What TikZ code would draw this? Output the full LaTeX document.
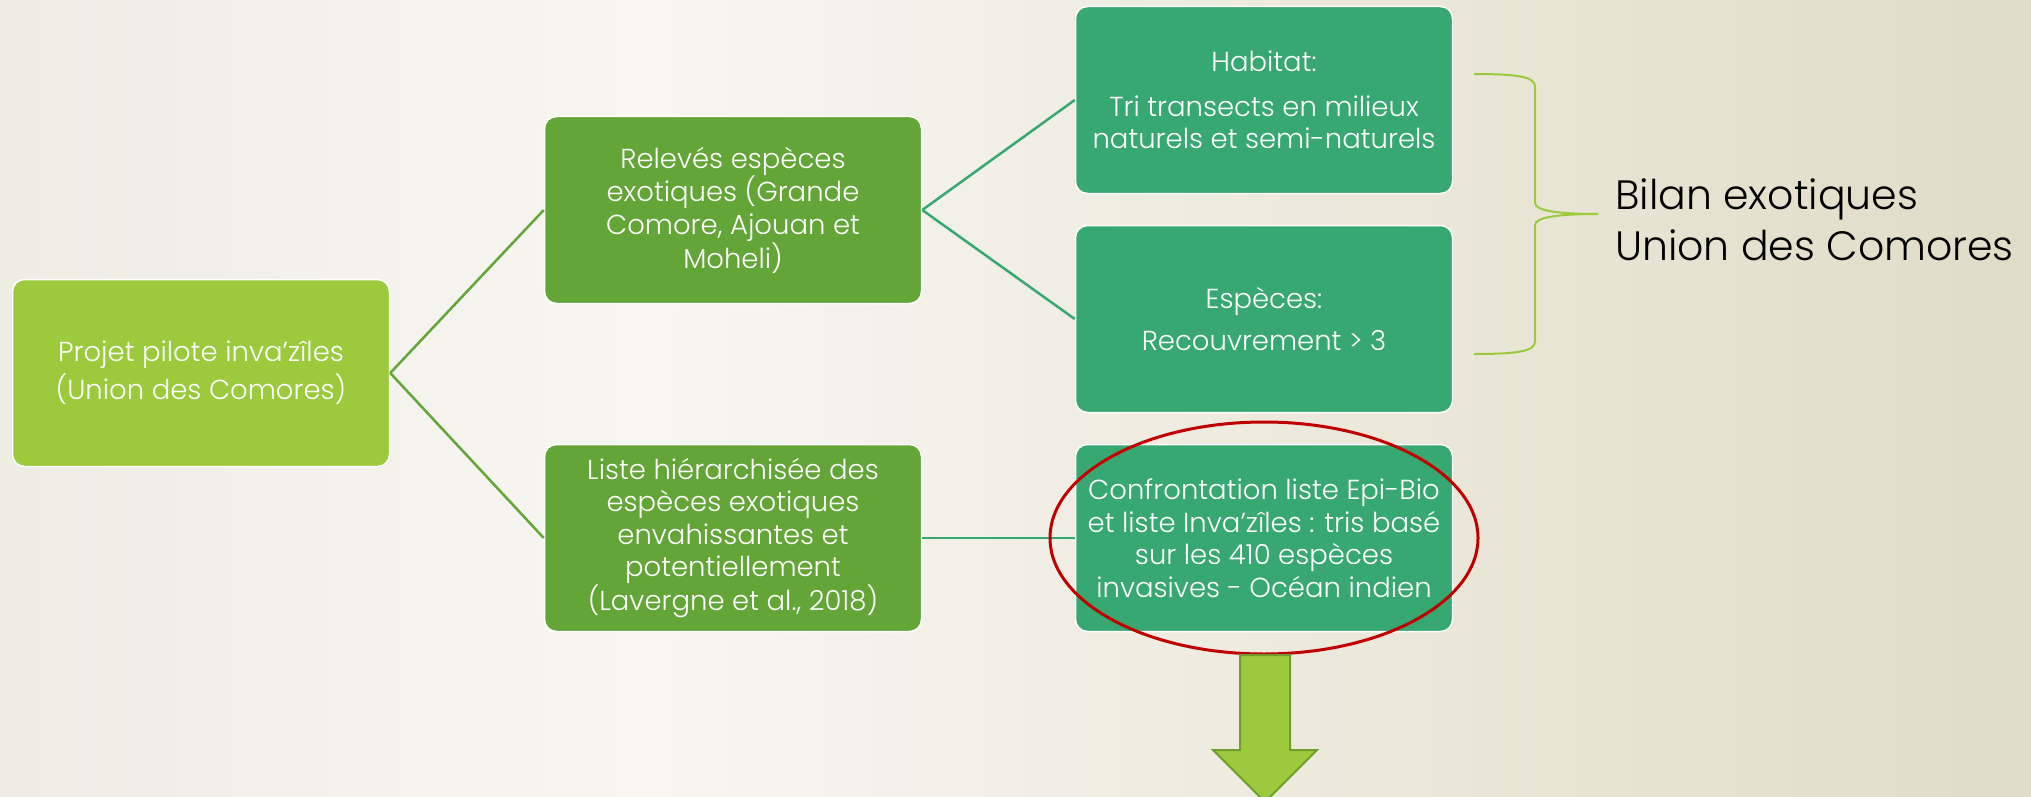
\documentclass[tikz,border=0pt]{standalone}
\usepackage{fontspec}
\setmainfont{Poppins}[UprightFont=* Light]
\usepackage{xcolor}
\usetikzlibrary{positioning,calc}

\definecolor{bgleft}{HTML}{EEEDE4}
\definecolor{bgmid}{HTML}{F7F6F1}
\definecolor{bgright}{HTML}{E1DCC6}
\definecolor{lightgrn}{HTML}{9BCB3C}
\definecolor{midgrn}{HTML}{63A537}
\definecolor{tealgrn}{HTML}{38A872}
\definecolor{ringred}{HTML}{C00000}
\definecolor{arrowedge}{HTML}{6F9E2C}

\begin{document}
\begin{tikzpicture}[x=1pt,y=-1pt,
    box/.style={draw=white, line width=1.5pt, rounded corners=12pt, text=white, align=center,
        minimum width=377pt, minimum height=187pt, inner sep=0pt,
        font=\fontsize{27.5}{32.5}\selectfont},
    link/.style={line width=2.5pt}]
        \shade[left color=bgleft, right color=bgmid] (0,0) rectangle (650,797);
        \shade[left color=bgmid, right color=bgright] (650,0) rectangle (2031,797);
        \useasboundingbox (0,0) rectangle (2031,797);

        \node[box, fill=lightgrn, font=\fontsize{27.5}{38}\selectfont] (projet) at (201,373) {Projet pilote inva’zîles\\(Union des Comores)};
        \node[box, fill=midgrn] (releves) at (733,210) {Relevés espèces\\exotiques (Grande\\Comore, Ajouan et\\Moheli)};
        \node[box, fill=midgrn] (liste) at (733,538) {Liste hiérarchisée des\\espèces exotiques\\envahissantes et\\potentiellement\\(Lavergne et al., 2018)};
        \node[box, fill=tealgrn] (habitat) at (1264,100) {Habitat:\\[12pt]Tri transects en milieux\\naturels et semi-naturels};
        \node[box, fill=tealgrn] (especes) at (1264,319) {Espèces:\\[9pt]Recouvrement > 3};
        \node[box, fill=tealgrn] (confront) at (1264,538) {Confrontation liste Epi-Bio\\et liste Inva’zîles : tris basé\\sur les 410 espèces\\invasives - Océan indien};

        \draw[link, midgrn] (projet.east) -- (releves.west);
        \draw[link, midgrn] (projet.east) -- (liste.west);
        \draw[link, tealgrn] (releves.east) -- (habitat.west);
        \draw[link, tealgrn] (releves.east) -- (especes.west);
        \draw[link, tealgrn] (liste.east) -- (confront.west);

        % accolade
        \coordinate (tip) at (1598,214);
        \draw[lightgrn, line width=2pt] (1474,74) .. controls (1520,74) and (1535,77) .. (1535,87) -- (1535,203)
            .. controls (1535,211) and (1560,214) .. (tip);
        \draw[lightgrn, line width=2pt] (1474,354) .. controls (1520,354) and (1535,351) .. (1535,341) -- (1535,225)
            .. controls (1535,217) and (1560,214) .. (tip);
        \node[anchor=west, align=left, inner sep=0pt, font=\fontsize{41}{51}\selectfont] (bilan) at (1615,220) {Bilan exotiques\\Union des Comores};

        \draw[ringred, line width=3pt] (confront.center) ellipse [x radius=214pt, y radius=116pt];

        \fill[draw=arrowedge, fill=lightgrn, line width=2pt] (1240,655) -- (1290,655) -- (1290,750) -- (1317,750)
            -- (1265,802) -- (1213,750) -- (1240,750) -- cycle;
    \end{tikzpicture}
\end{document}
